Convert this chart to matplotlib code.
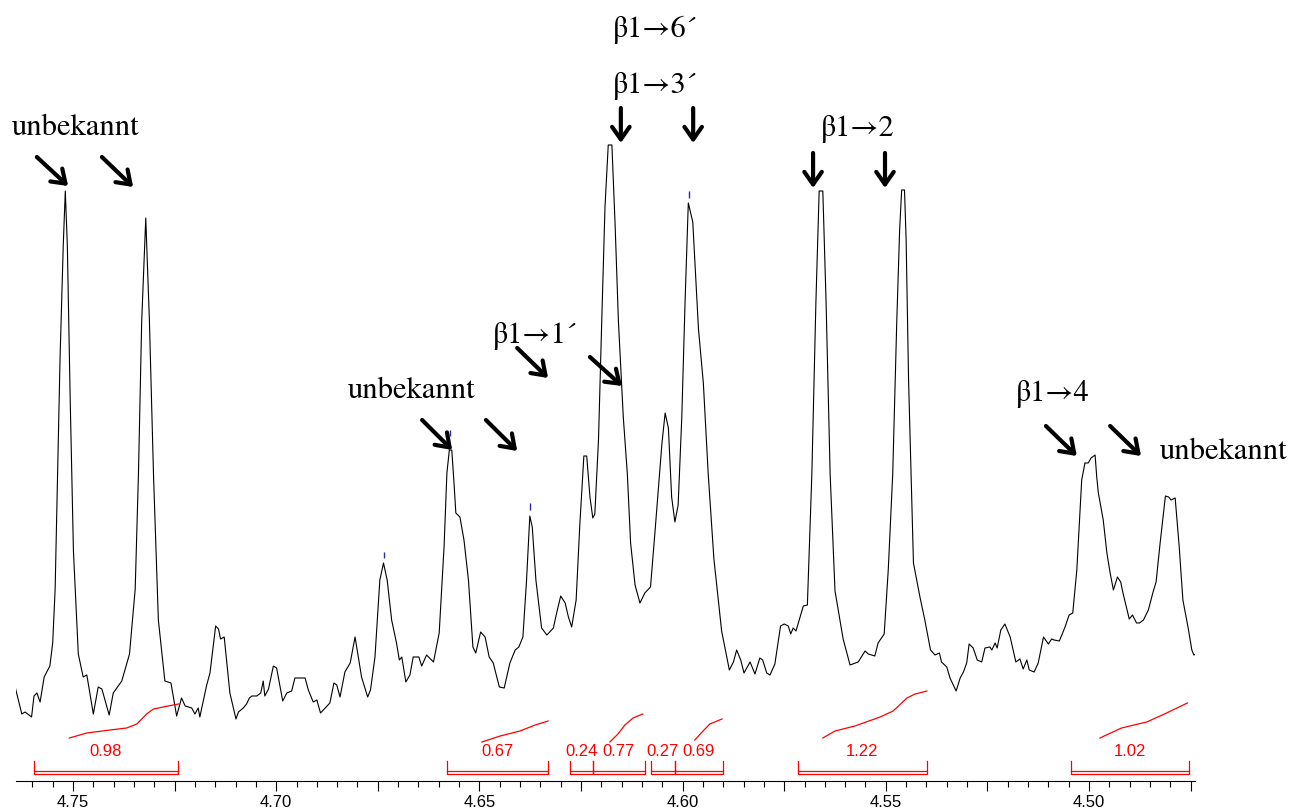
import matplotlib
matplotlib.use("Agg")
import matplotlib.pyplot as plt
from matplotlib.ticker import FixedLocator, FuncFormatter
import numpy as np

plt.rcParams['font.family'] = ['Liberation Sans', 'DejaVu Sans']

# Spectrum (chemical shift in ppm, intensity in a.u.)
shift = [4.7643, 4.7626, 4.7618, 4.7602, 4.7596, 4.7589, 4.7581, 4.7571, 4.7557, 4.7550,
         4.7544, 4.7540, 4.7532, 4.7524, 4.7519, 4.7514, 4.7507, 4.7499, 4.7487, 4.7475,
         4.7466, 4.7450, 4.7438, 4.7429, 4.7411, 4.7401, 4.7380, 4.7361, 4.7347, 4.7339,
         4.7331, 4.7321, 4.7312, 4.7302, 4.7290, 4.7274, 4.7259, 4.7245, 4.7233, 4.7224,
         4.7208, 4.7200, 4.7192, 4.7188, 4.7171, 4.7163, 4.7149, 4.7142, 4.7137, 4.7128,
         4.7114, 4.7099, 4.7093, 4.7081, 4.7073, 4.7066, 4.7060, 4.7048, 4.7038, 4.7032,
         4.7028, 4.7019, 4.7007, 4.6999, 4.6984, 4.6974, 4.6962, 4.6954, 4.6929, 4.6921,
         4.6909, 4.6900, 4.6891, 4.6868, 4.6858, 4.6851, 4.6843, 4.6831, 4.6818, 4.6806,
         4.6790, 4.6775, 4.6768, 4.6757, 4.6745, 4.6736, 4.6727, 4.6716, 4.6704, 4.6697,
         4.6691, 4.6681, 4.6671, 4.6663, 4.6649, 4.6642, 4.6630, 4.6613, 4.6599, 4.6587,
         4.6580, 4.6574, 4.6568, 4.6563, 4.6558, 4.6548, 4.6538, 4.6527, 4.6516, 4.6509,
         4.6497, 4.6486, 4.6476, 4.6466, 4.6451, 4.6439, 4.6425, 4.6412, 4.6403, 4.6393,
         4.6384, 4.6376, 4.6370, 4.6361, 4.6347, 4.6334, 4.6318, 4.6310, 4.6300, 4.6289,
         4.6281, 4.6273, 4.6262, 4.6253, 4.6243, 4.6236, 4.6228, 4.6221, 4.6216, 4.6207,
         4.6199, 4.6191, 4.6183, 4.6174, 4.6166, 4.6158, 4.6146, 4.6136, 4.6128, 4.6117,
         4.6105, 4.6093, 4.6079, 4.6068, 4.6051, 4.6043, 4.6035, 4.6027, 4.6019, 4.6011,
         4.6002, 4.5994, 4.5986, 4.5975, 4.5961, 4.5949, 4.5937, 4.5923, 4.5904, 4.5885,
         4.5875, 4.5867, 4.5857, 4.5849, 4.5834, 4.5822, 4.5810, 4.5803, 4.5793, 4.5785,
         4.5773, 4.5759, 4.5750, 4.5740, 4.5734, 4.5728, 4.5721, 4.5703, 4.5693, 4.5682,
         4.5672, 4.5664, 4.5655, 4.5647, 4.5637, 4.5625, 4.5605, 4.5588, 4.5568, 4.5551,
         4.5543, 4.5527, 4.5519, 4.5504, 4.5494, 4.5483, 4.5473, 4.5466, 4.5461, 4.5454,
         4.5450, 4.5444, 4.5432, 4.5416, 4.5404, 4.5390, 4.5379, 4.5368, 4.5363, 4.5350,
         4.5342, 4.5327, 4.5317, 4.5309, 4.5301, 4.5295, 4.5285, 4.5275, 4.5264, 4.5256,
         4.5244, 4.5239, 4.5231, 4.5226, 4.5217, 4.5207, 4.5194, 4.5180, 4.5170, 4.5162,
         4.5153, 4.5147, 4.5135, 4.5125, 4.5112, 4.5100, 4.5092, 4.5086, 4.5073, 4.5059,
         4.5049, 4.5040, 4.5030, 4.5018, 4.5010, 4.5002, 4.4995, 4.4985, 4.4981, 4.4977,
         4.4965, 4.4956, 4.4948, 4.4940, 4.4930, 4.4922, 4.4917, 4.4911, 4.4901, 4.4893,
         4.4883, 4.4876, 4.4866, 4.4854, 4.4843, 4.4835, 4.4825, 4.4812, 4.4804, 4.4798,
         4.4788, 4.4778, 4.4769, 4.4756, 4.4747, 4.4742, 4.4733]
intensity = [34, 6, 8, 3, 24, 27, 18, 43, 54, 77,
             131, 207, 360, 475, 529, 475, 322, 169, 66, 43,
             45, 6, 33, 31, 5, 27, 39, 66, 131, 246,
             399, 502, 399, 246, 100, 39, 37, 4, 22, 14,
             12, 6, 12, 3, 35, 47, 94, 91, 81, 83,
             27, 1, 8, 12, 16, 22, 24, 24, 27, 39,
             24, 31, 54, 52, 19, 27, 29, 42, 42, 30,
             18, 20, 7, 17, 37, 35, 23, 48, 57, 83,
             43, 23, 30, 63, 140, 157, 140, 100, 77, 60,
             63, 38, 45, 63, 63, 54, 65, 58, 87, 173,
             247, 270, 270, 240, 207, 203, 180, 140, 73, 67,
             88, 83, 63, 57, 33, 32, 57, 70, 73, 83,
             140, 204, 193, 140, 92, 85, 92, 107, 124, 117,
             103, 93, 120, 195, 264, 264, 223, 202, 206, 280,
             399, 513, 575, 575, 494, 399, 303, 246, 177, 135,
             117, 127, 133, 188, 276, 307, 292, 223, 198, 215,
             303, 418, 517, 498, 391, 337, 246, 161, 89, 50,
             58, 70, 60, 47, 58, 46, 62, 60, 47, 45,
             56, 94, 96, 94, 86, 92, 89, 114, 115, 246,
             418, 529, 529, 418, 246, 129, 81, 55, 58, 69,
             66, 64, 77, 86, 150, 246, 399, 490, 530, 530,
             480, 340, 157, 123, 100, 70, 65, 67, 58, 53,
             42, 29, 42, 48, 57, 76, 72, 60, 58, 72,
             73, 70, 77, 72, 90, 96, 83, 58, 61, 51,
             60, 50, 48, 57, 83, 76, 81, 80, 79, 93,
             105, 107, 150, 240, 257, 257, 262, 265, 243, 227,
             200, 167, 147, 130, 143, 138, 128, 118, 101, 105,
             97, 97, 100, 110, 127, 138, 177, 224, 223, 220,
             222, 173, 120, 92, 70, 65, 67]

# Peak-pick markers (blue)
pick_shift = [4.6736, 4.6572, 4.6376, 4.5984]
pick_low = [162, 284, 210, 522]
pick_high = [168, 290, 217, 529]

# Integration regions and values
int_start = [4.7596, 4.6580, 4.6277, 4.6221, 4.6078, 4.6019, 4.5716, 4.5044]
int_end = [4.7242, 4.6331, 4.6221, 4.6093, 4.6019, 4.5901, 4.5399, 4.4754]
int_value = ["0.98", "0.67", "0.24", "0.77", "0.27", "0.69", "1.22", "1.02"]

# Integral curves (red traces)
curve_shift = [
    [4.7509, 4.7466, 4.7409, 4.7368, 4.7343, 4.7331, 4.7319, 4.7302, 4.7278, 4.7241],
    [4.6494, 4.6449, 4.6400, 4.6363, 4.6331],
    [4.6179, 4.6159, 4.6142, 4.6122, 4.6098],
    [4.5970, 4.5952, 4.5933, 4.5903],
    [4.5655, 4.5625, 4.5576, 4.5514, 4.5482, 4.5448, 4.5428, 4.5399],
    [4.4973, 4.4920, 4.4858, 4.4809, 4.4758],
]
curve_level = [
    [-18, -13, -10, -8, -4, 1, 6, 11, 13, 16],
    [-22, -16, -11, -5, -1],
    [-22, -14, -5, 2, 6],
    [-20, -12, -4, 1],
    [-18, -11, -6, 3, 9, 22, 26, 29],
    [-18, -8, -2, 7, 17],
]

# Assignment labels and arrows
labels = ["unbekannt", "β1→6´", "β1→3´", "β1→2", "β1→1´", "unbekannt", "β1→4", "unbekannt"]
label_shift = [4.7650, 4.6174, 4.6174, 4.5662, 4.6467, 4.6823, 4.5182, 4.4825]
label_level = [585, 683, 627, 584, 377, 322, 319, 261]

arrow_from = [(4.7589, 563), (4.7429, 563), (4.6152, 612), (4.5974, 612),
              (4.5679, 567), (4.5502, 567), (4.6407, 372), (4.6228, 363),
              (4.6641, 300), (4.6484, 300), (4.5106, 294), (4.4948, 294)]
arrow_to = [(4.7512, 534), (4.7352, 533), (4.6152, 577), (4.5974, 577),
            (4.5679, 532), (4.5502, 532), (4.6331, 342), (4.6149, 334),
            (4.6567, 270), (4.6407, 269), (4.5030, 264), (4.4872, 264)]

fig = plt.figure(figsize=(12.95, 8.11), dpi=100)
ax = fig.add_axes([16 / 1295, 30 / 811, 1179 / 1295, 781 / 811])

ax.plot(shift, intensity, color="black", lw=0.8)
ax.vlines(pick_shift, pick_low, pick_high, color="#2a2aa8", lw=1.0)

# integrals
for s, e, v in zip(int_start, int_end, int_value):
    ax.plot([s, s, e, e], [-41, -54, -54, -41], color="red", lw=0.9)
    ax.plot([s, e], [-51, -51], color="red", lw=0.9)
    ax.text((s + e) / 2, -36, v, color="red", fontsize=12, ha="center", va="baseline")
for xs, ys in zip(curve_shift, curve_level):
    ax.plot(xs, ys, color="red", lw=0.9)

# labels and arrows
for t, x, y in zip(labels, label_shift, label_level):
    ax.text(x, y, t, family=["STIXGeneral", "Liberation Serif", "DejaVu Serif"],
            fontsize=22, ha="left", va="baseline", color="black")
for a, b in zip(arrow_from, arrow_to):
    ax.annotate("", xy=b, xytext=a, annotation_clip=False,
                arrowprops=dict(arrowstyle="->,head_length=0.6,head_width=0.42",
                                lw=3, color="black", shrinkA=0, shrinkB=0,
                                mutation_scale=15))

ax.set_xlim(4.76403, 4.47392)
ax.set_ylim(-61, 720)

major = np.round(np.arange(4.475, 4.7651, 0.025), 3)
minor = np.round(np.arange(4.475, 4.7651, 0.005), 3)
ax.xaxis.set_major_locator(FixedLocator(major))
ax.xaxis.set_minor_locator(FixedLocator(minor))
ax.xaxis.set_major_formatter(FuncFormatter(
    lambda v, p: f"{v:.2f}" if abs(v * 20 - round(v * 20)) < 1e-6 else ""))
ax.tick_params(axis="x", which="major", direction="out", length=7, width=0.8,
               labelsize=12, pad=3)
ax.tick_params(axis="x", which="minor", direction="out", length=4.3, width=0.8)
ax.set_yticks([])
for side in ["top", "left", "right"]:
    ax.spines[side].set_visible(False)
ax.spines["bottom"].set_linewidth(0.8)
ax.patch.set_alpha(0)

fig.savefig("out.png", dpi=100)
